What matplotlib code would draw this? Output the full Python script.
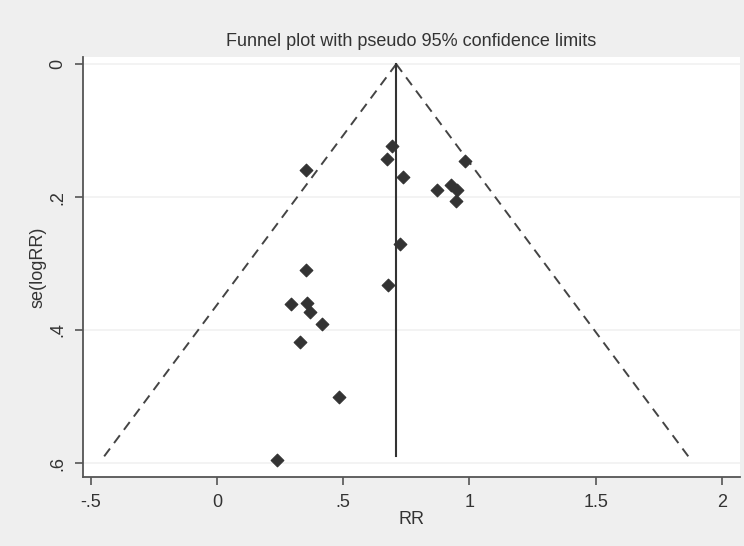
import numpy as np
import matplotlib.pyplot as plt

plt.rcParams['font.family'] = ['Liberation Sans', 'DejaVu Sans']

# study estimates
rr = [0.693, 0.672, 0.354, 0.735, 0.983, 0.872, 0.925, 0.951, 0.946, 0.725,
      0.354, 0.676, 0.295, 0.356, 0.370, 0.418, 0.328, 0.484, 0.238]
se = [0.123, 0.143, 0.160, 0.170, 0.146, 0.190, 0.182, 0.190, 0.206, 0.271,
      0.310, 0.333, 0.361, 0.360, 0.373, 0.391, 0.418, 0.501, 0.595]
pooled = 0.71
se_max = 0.59

xticks = [-0.5, 0, 0.5, 1, 1.5, 2]
xlabels = ['-.5', '0', '.5', '1', '1.5', '2']
yticks = [0, 0.2, 0.4, 0.6]
ylabels = ['0', '.2', '.4', '.6']

fig = plt.figure(figsize=(7.44, 5.46), dpi=100, facecolor='#efefef')
ax = fig.add_axes([0.1116, 0.1264, 0.883, 0.769])
ax.set_facecolor('white')

for t in yticks:
    ax.axhline(t, color='#f1f1f1', lw=1.2, zorder=0)

# pseudo 95% limits
s = np.array([0, se_max])
ax.plot(pooled - 1.96 * s, s, color='#444444', lw=1.4, ls=(0, (5, 3.5)))
ax.plot(pooled + 1.96 * s, s, color='#444444', lw=1.4, ls=(0, (5, 3.5)))
ax.plot([pooled, pooled], [0, se_max], color='#333333', lw=1.5)

ax.scatter(rr, se, marker='D', s=42, color='#333333', edgecolor='#333333',
           linewidth=0.8, zorder=3)

ax.set_xlim(-0.53, 2.071)
ax.set_ylim(0.621, -0.0105)
ax.set_xticks(xticks)
ax.set_xticklabels(xlabels)
ax.set_yticks(yticks)
ax.set_yticklabels(ylabels, rotation=90, va='center')

for sp in ['top', 'right']:
    ax.spines[sp].set_visible(False)
for sp in ['left', 'bottom']:
    ax.spines[sp].set_color('#555555')
    ax.spines[sp].set_linewidth(1.3)
ax.tick_params(direction='out', length=6, width=1.2, color='#555555',
               labelsize=13, labelcolor='#333333', pad=6)

ax.set_xlabel('RR', fontsize=13, color='#333333', labelpad=0)
ax.set_ylabel('se(logRR)', fontsize=13, color='#333333', labelpad=2)
ax.set_title('Funnel plot with pseudo 95% confidence limits', fontsize=13,
             color='#333333', pad=8)

fig.savefig('out.png', dpi=100, facecolor=fig.get_facecolor())
